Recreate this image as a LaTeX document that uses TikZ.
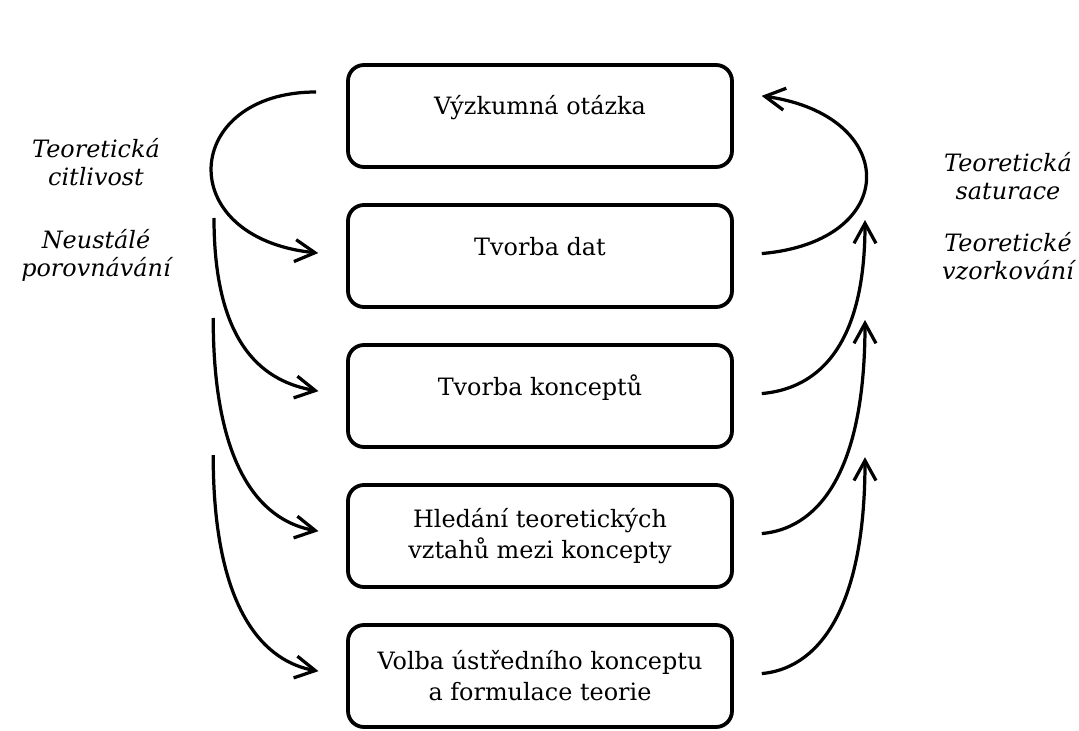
\documentclass[tikz,border=0pt]{standalone}
\usepackage{fontspec}
\setmainfont{DejaVu Serif}
\usetikzlibrary{arrows.meta, positioning}

\begin{document}
\begin{tikzpicture}[
            > = {Straight Barb[length=5mm, width=5.5mm]}, % arrow head style
            auto,
            node distance = 3.5cm, % distance between boxes
            line width = 2.3pt % line style
        ]

        \tikzstyle{stage}=[
            draw = black,
            line width = 2.7pt,
            rounded corners = 0.4cm,
            minimum width = 9.6cm,
            minimum height = 2.55cm,
            align = center,
            font = \fontsize{17}{22}\selectfont
        ]
        \tikzstyle{oneline}=[
            text height = 0.5cm,
            text depth = 0.55cm % lifts a single line a bit
        ]
        \tikzstyle{note}=[
            align = center,
            font = \fontsize{17}{20}\selectfont\itshape
        ]

    \useasboundingbox (0,0) rectangle (26.975,-18.275);

	\node[stage, oneline] (otazka) at (13.5,-2.9) {Výzkumná otázka};
	\node[stage, oneline] (dat) [below of=otazka] {Tvorba dat};
	\node[stage, oneline] (konc) [below of=dat] {Tvorba konceptů};
	\node[stage] (vztahy) [below of=konc] {Hledání teoretických\\vztahů mezi koncepty};
	\node[stage] (teorie) [below of=vztahy] {Volba ústředního konceptu\\a formulace teorie};

	\node[note] (citl) at (2.4,-4.05) {Teoretická\\citlivost};
	\node[note] (porov) at (2.4,-6.375) {Neustálé\\porovnávání};
	\node[note] (satur) at (25.2,-4.4) {Teoretická\\saturace};
	\node[note] (vzork) at (25.2,-6.4) {Teoretické\\vzorkování};

	% free ends of the side arrows
	\coordinate (l2) at (5.35,-5.45);
	\coordinate (l3) at (5.33,-7.95);
	\coordinate (l4) at (5.33,-11.38);
	\coordinate (r2) at (21.625,-5.5);
	\coordinate (r3) at (21.625,-8.0);
	\coordinate (r4) at (21.625,-11.43);

	\path[->] ([yshift=6mm]otazka.west) edge[out=180, in=174, out distance=4.1cm, in distance=4.4cm, shorten <=7.5mm, shorten >=7mm] (dat.west);
	\path[->] (l2) edge[out=-90, in=170, out distance=3.3cm, in distance=2cm, shorten >=7mm] (konc.west);
	\path[->] (l3) edge[out=-90, in=170, out distance=4cm, in distance=2cm, shorten >=7mm] (vztahy.west);
	\path[->] (l4) edge[out=-90, in=170, out distance=4cm, in distance=2cm, shorten >=7mm] (teorie.west);

	\path[->] (dat.east) edge[out=5, in=-8, out distance=4.2cm, in distance=4.2cm, shorten <=7mm, shorten >=7mm] ([yshift=6mm]otazka.east);
	\path[->] (konc.east) edge[out=5, in=-90, out distance=2cm, in distance=3.3cm, shorten <=7mm] (r2);
	\path[->] (vztahy.east) edge[out=5, in=-90, out distance=2cm, in distance=4cm, shorten <=7mm] (r3);
	\path[->] (teorie.east) edge[out=5, in=-90, out distance=2cm, in distance=4cm, shorten <=7mm] (r4);

    \end{tikzpicture}
\end{document}
